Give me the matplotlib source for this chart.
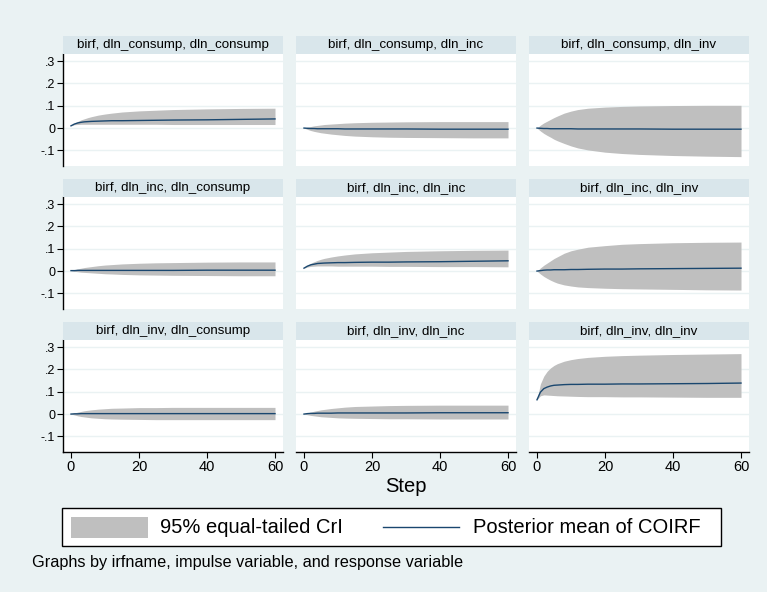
import matplotlib
matplotlib.use("Agg")
import matplotlib.pyplot as plt
from matplotlib.patches import Rectangle
from matplotlib.lines import Line2D

plt.rcParams['font.family'] = ['Liberation Sans', 'DejaVu Sans']

# ---------------- data ----------------
steps = [0, 1, 2, 3, 4, 5, 6, 8, 10, 12, 15, 20, 25, 30, 40, 50, 60]

titles = [
    "birf, dln_consump, dln_consump", "birf, dln_consump, dln_inc", "birf, dln_consump, dln_inv",
    "birf, dln_inc, dln_consump", "birf, dln_inc, dln_inc", "birf, dln_inc, dln_inv",
    "birf, dln_inv, dln_consump", "birf, dln_inv, dln_inc", "birf, dln_inv, dln_inv",
]

mean_cc = [0.010, 0.018, 0.023, 0.026, 0.028, 0.029, 0.030, 0.031, 0.032, 0.033, 0.033, 0.034, 0.035, 0.036, 0.037, 0.039, 0.041]
upper_cc = [0.010, 0.022, 0.030, 0.037, 0.042, 0.047, 0.051, 0.058, 0.063, 0.067, 0.072, 0.077, 0.080, 0.083, 0.086, 0.088, 0.089]
lower_cc = [0.010, 0.015, 0.016, 0.017, 0.017, 0.017, 0.017, 0.017, 0.017, 0.017, 0.017, 0.017, 0.017, 0.016, 0.016, 0.016, 0.016]

mean_ci = [0.000, -0.001, -0.002, -0.002, -0.003, -0.003, -0.003, -0.003, -0.003, -0.004, -0.004, -0.004, -0.004, -0.004, -0.005, -0.005, -0.005]
upper_ci = [0.000, 0.004, 0.007, 0.010, 0.012, 0.014, 0.016, 0.018, 0.020, 0.022, 0.024, 0.026, 0.027, 0.028, 0.029, 0.029, 0.029]
lower_ci = [0.000, -0.006, -0.011, -0.015, -0.018, -0.021, -0.023, -0.027, -0.030, -0.033, -0.036, -0.039, -0.041, -0.042, -0.043, -0.044, -0.044]

mean_cv = [0.000, -0.001, -0.002, -0.002, -0.003, -0.003, -0.003, -0.003, -0.003, -0.004, -0.004, -0.004, -0.004, -0.004, -0.005, -0.005, -0.005]
upper_cv = [0.000, 0.013, 0.023, 0.031, 0.039, 0.047, 0.054, 0.067, 0.076, 0.083, 0.089, 0.094, 0.097, 0.099, 0.101, 0.102, 0.102]
lower_cv = [0.000, -0.013, -0.024, -0.033, -0.041, -0.050, -0.057, -0.069, -0.080, -0.089, -0.098, -0.108, -0.114, -0.118, -0.123, -0.126, -0.128]

mean_ic = [0.002, 0.002, 0.003, 0.003, 0.003, 0.003, 0.003, 0.003, 0.003, 0.003, 0.003, 0.003, 0.003, 0.003, 0.004, 0.004, 0.004]
upper_ic = [0.002, 0.006, 0.010, 0.013, 0.016, 0.018, 0.020, 0.024, 0.027, 0.029, 0.032, 0.035, 0.037, 0.038, 0.040, 0.041, 0.041]
lower_ic = [0.002, -0.001, -0.003, -0.005, -0.006, -0.007, -0.008, -0.010, -0.012, -0.013, -0.015, -0.017, -0.018, -0.019, -0.020, -0.021, -0.021]

mean_ii = [0.013, 0.022, 0.028, 0.031, 0.034, 0.035, 0.036, 0.037, 0.038, 0.038, 0.039, 0.040, 0.040, 0.041, 0.042, 0.044, 0.046]
upper_ii = [0.013, 0.026, 0.035, 0.042, 0.048, 0.053, 0.057, 0.063, 0.068, 0.072, 0.077, 0.082, 0.085, 0.088, 0.091, 0.093, 0.094]
lower_ii = [0.013, 0.018, 0.021, 0.022, 0.023, 0.023, 0.023, 0.023, 0.022, 0.022, 0.022, 0.022, 0.021, 0.021, 0.020, 0.020, 0.019]

mean_iv = [0.000, 0.002, 0.004, 0.005, 0.005, 0.006, 0.006, 0.006, 0.007, 0.007, 0.008, 0.009, 0.009, 0.010, 0.011, 0.012, 0.013]
upper_iv = [0.000, 0.014, 0.026, 0.036, 0.046, 0.056, 0.064, 0.080, 0.091, 0.098, 0.107, 0.114, 0.120, 0.123, 0.127, 0.129, 0.130]
lower_iv = [0.000, -0.013, -0.024, -0.033, -0.041, -0.048, -0.054, -0.062, -0.067, -0.071, -0.074, -0.077, -0.079, -0.080, -0.082, -0.084, -0.085]

mean_vc = [0.000, 0.001, 0.001, 0.002, 0.002, 0.002, 0.002, 0.002, 0.002, 0.002, 0.002, 0.002, 0.002, 0.002, 0.002, 0.002, 0.002]
upper_vc = [0.000, 0.005, 0.009, 0.012, 0.015, 0.017, 0.019, 0.022, 0.024, 0.026, 0.027, 0.029, 0.029, 0.030, 0.030, 0.030, 0.030]
lower_vc = [0.000, -0.004, -0.008, -0.011, -0.013, -0.015, -0.017, -0.019, -0.021, -0.022, -0.023, -0.024, -0.025, -0.025, -0.025, -0.025, -0.025]

mean_vi = [0.000, 0.002, 0.003, 0.003, 0.004, 0.004, 0.004, 0.004, 0.005, 0.005, 0.005, 0.005, 0.005, 0.005, 0.006, 0.006, 0.006]
upper_vi = [0.000, 0.005, 0.009, 0.013, 0.016, 0.019, 0.021, 0.025, 0.028, 0.031, 0.034, 0.036, 0.038, 0.039, 0.040, 0.040, 0.040]
lower_vi = [0.000, -0.003, -0.006, -0.008, -0.010, -0.012, -0.013, -0.015, -0.017, -0.018, -0.019, -0.020, -0.021, -0.021, -0.022, -0.022, -0.022]

mean_vv = [0.064, 0.098, 0.114, 0.121, 0.126, 0.129, 0.130, 0.132, 0.133, 0.133, 0.134, 0.134, 0.135, 0.135, 0.136, 0.137, 0.139]
upper_vv = [0.064, 0.135, 0.170, 0.192, 0.207, 0.218, 0.226, 0.237, 0.244, 0.249, 0.254, 0.259, 0.262, 0.264, 0.267, 0.269, 0.271]
lower_vv = [0.064, 0.082, 0.086, 0.085, 0.084, 0.083, 0.082, 0.081, 0.080, 0.079, 0.078, 0.078, 0.077, 0.077, 0.076, 0.075, 0.075]

means = [mean_cc, mean_ci, mean_cv, mean_ic, mean_ii, mean_iv, mean_vc, mean_vi, mean_vv]
uppers = [upper_cc, upper_ci, upper_cv, upper_ic, upper_ii, upper_iv, upper_vc, upper_vi, upper_vv]
lowers = [lower_cc, lower_ci, lower_cv, lower_ic, lower_ii, lower_iv, lower_vc, lower_vi, lower_vv]

yticks = [-0.1, 0.0, 0.1, 0.2, 0.3]
ytick_labels = ["-.1", "0", ".1", ".2", ".3"]
xticks = [0, 20, 40, 60]
xtick_labels = ["0", "20", "40", "60"]

legend_labels = ["95% equal-tailed CrI", "Posterior mean of COIRF"]
xtitle = "Step"
note = "Graphs by irfname, impulse variable, and response variable"

# ---------------- style ----------------
W, H = 767, 592
BG = '#EAF2F3'
STRIP = '#D9E6EB'
GRID = '#EAF2F3'
BAND = '#BFBFBF'
LINE = '#1A476F'

fig = plt.figure(figsize=(W / 100, H / 100), dpi=100)
fig.patch.set_facecolor(BG)

col_left = [63, 296, 529]
panel_w = 220
row_strip_top = [36, 179, 322]
strip_h = 18
plot_h = 112


def fx(px):
    return px / W


def fy(py):
    return 1 - py / H


for k in range(9):
    r, c = divmod(k, 3)
    left = col_left[c]
    top = row_strip_top[r] + strip_h
    bottom = top + plot_h
    ax = fig.add_axes([fx(left), fy(bottom), panel_w / W, plot_h / H])
    ax.set_facecolor('white')
    ax.fill_between(steps, lowers[k], uppers[k], color=BAND, linewidth=0)
    ax.plot(steps, means[k], color=LINE, linewidth=1.0)
    ax.set_xlim(-2.35, 62.35)
    ax.set_ylim(-0.170, 0.332)
    ax.set_yticks(yticks)
    ax.set_yticklabels(ytick_labels)
    ax.set_xticks(xticks)
    ax.set_xticklabels(xtick_labels)
    ax.grid(axis='y', color=GRID, linewidth=1.0)
    ax.set_axisbelow(True)
    for s in ['top', 'right']:
        ax.spines[s].set_visible(False)
    ax.spines['left'].set_visible(c == 0)
    ax.spines['bottom'].set_visible(r == 2)
    for s in ['left', 'bottom']:
        ax.spines[s].set_color('black')
        ax.spines[s].set_linewidth(1.0)
    ax.tick_params(axis='y', left=(c == 0), labelleft=(c == 0), length=4, width=0.8,
                   labelsize=9, pad=1.5, colors='black')
    ax.tick_params(axis='x', bottom=(r == 2), labelbottom=(r == 2), length=4, width=0.8,
                   labelsize=10.5, pad=2, colors='black')
    # title strip
    fig.patches.append(Rectangle((fx(left), fy(top)), panel_w / W, strip_h / H,
                                 transform=fig.transFigure, facecolor=STRIP,
                                 edgecolor='none', zorder=0))
    fig.text(fx(left + panel_w / 2), fy(row_strip_top[r] + strip_h / 2), titles[k],
             ha='center', va='center', fontsize=9.6, color='black')

# x title
fig.text(fx(406), fy(487), xtitle, ha='center', va='center', fontsize=14.5, color='black')

# legend box
fig.patches.append(Rectangle((fx(62), fy(546)), (721 - 62) / W, (546 - 508) / H,
                             transform=fig.transFigure, facecolor='white',
                             edgecolor='black', linewidth=1.0, zorder=1))
fig.patches.append(Rectangle((fx(71), fy(538)), (148 - 71) / W, (538 - 517) / H,
                             transform=fig.transFigure, facecolor=BAND,
                             edgecolor='none', zorder=2))
fig.text(fx(160), fy(527.5), legend_labels[0], ha='left', va='center', fontsize=14.5, color='black')
fig.lines.append(Line2D([fx(383), fx(459)], [fy(527), fy(527)], transform=fig.transFigure,
                        color=LINE, linewidth=1.0, zorder=3))
fig.text(fx(473), fy(527.5), legend_labels[1], ha='left', va='center', fontsize=14.5, color='black')

# note
fig.text(fx(32), fy(563), note, ha='left', va='center', fontsize=11.7, color='black')

fig.savefig('out.png', dpi=100, facecolor=BG)
